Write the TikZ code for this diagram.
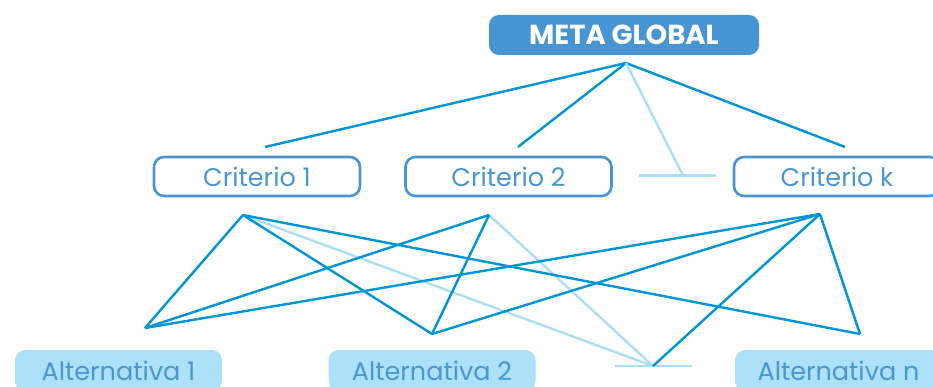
\documentclass[tikz,border=0pt]{standalone}
\usepackage{fontspec}
\setmainfont{Poppins}
\usetikzlibrary{positioning}

\begin{document}
\begin{tikzpicture}[x=1pt,y=-1pt]
\definecolor{goalColour}{RGB}{71, 150, 211}
\definecolor{edgeColour}{RGB}{0, 149, 213}
\definecolor{paleColour}{RGB}{170, 223, 246}
\definecolor{altColour}{RGB}{173, 224, 249}
\definecolor{textColour}{RGB}{74, 150, 210}
\tikzstyle{goal}=[rectangle, rounded corners=10pt, fill=goalColour, text=white, minimum width=270pt, minimum height=40pt, inner sep=0pt, font=\bfseries\fontsize{27.5}{27.5}\selectfont]
\tikzstyle{criterion}=[rectangle, rounded corners=10pt, draw=goalColour, line width=2.6pt, text=textColour, minimum width=206pt, minimum height=39pt, inner sep=0pt, font=\fontsize{25.5}{25.5}\selectfont]
\tikzstyle{alternative}=[rectangle, rounded corners=10pt, fill=altColour, text=textColour, minimum width=207pt, minimum height=41pt, inner sep=0pt, font=\fontsize{25.5}{25.5}\selectfont]
\tikzstyle{link}=[line width=2.4pt, color=edgeColour]
\tikzstyle{pale}=[line width=2.4pt, color=paleColour]

\useasboundingbox (0,0) rectangle (933,387);

\node [goal] (meta) at (624,35) {META GLOBAL};

\node [criterion] (c1) at (257,176.5) {Criterio 1};
\node [criterion] (c2) at (508.5,176.5) {Criterio 2};
\node [criterion] (ck) at (837,176.5) {Criterio k};

\node [alternative] (a1) at (118.5,370.5) {Alternativa 1};
\node [alternative] (a2) at (432,370.5) {Alternativa 2};
\node [alternative] (an) at (838.5,370.5) {Alternativa n};

% meeting points
\coordinate (top) at (626,63);
\coordinate (c1Top) at (265,147);
\coordinate (c2Top) at (518,147);
\coordinate (ckTop) at (845,147);
\coordinate (dotsTop) at (683,175.5);
\coordinate (dotsTopL) at (639,175.5);
\coordinate (dotsTopR) at (716,175.5);
\coordinate (c1Bot) at (243,215);
\coordinate (c2Bot) at (489,215);
\coordinate (ckBot) at (820,214);
\coordinate (a1Top) at (145,328);
\coordinate (a2Top) at (432,334);
\coordinate (anTop) at (860,334);
\coordinate (dotsBot) at (653,366);
\coordinate (dotsBotL) at (615,366);
\coordinate (dotsBotR) at (692,366);

\path [link]
(top) edge (c1Top)
(top) edge (c2Top)
(top) edge (ckTop);
\path [pale]
(top) edge (dotsTop)
(dotsTopL) edge (dotsTopR);

\path [pale]
(c1Bot) edge (dotsBot)
(c2Bot) edge (dotsBot)
(dotsBotL) edge (dotsBotR);
\path [link, line join=miter]
(c1Bot) edge (a1Top)
(c1Bot) edge (a2Top)
(c1Bot) edge (anTop)
(c2Bot) edge (a1Top)
(c2Bot) edge (a2Top)
(ckBot) edge (a1Top)
(ckBot) edge (a2Top)
(ckBot) edge (dotsBot)
(ckBot) edge (anTop);
\end{tikzpicture}
\end{document}
